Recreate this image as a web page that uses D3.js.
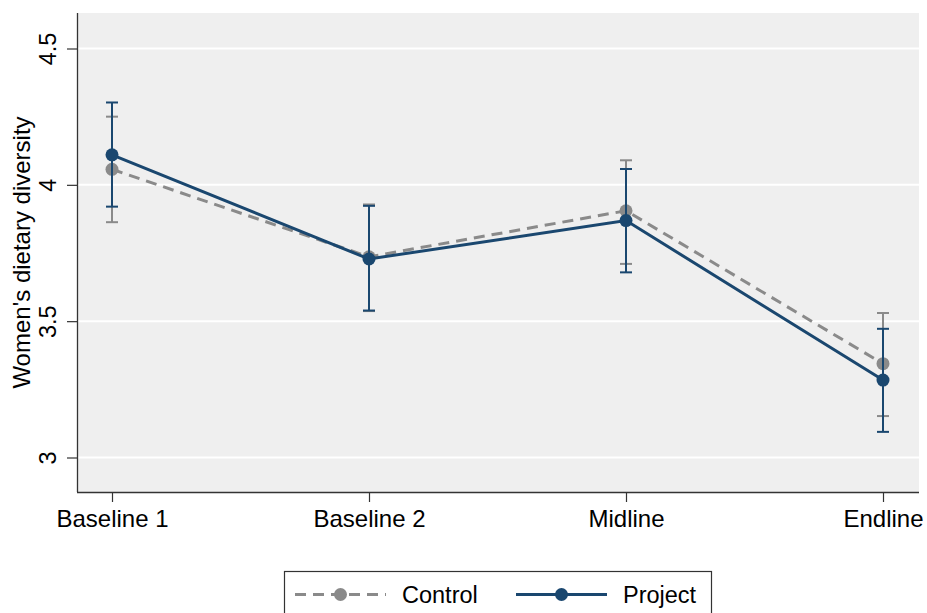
<!DOCTYPE html>
<html>
<head>
<meta charset="utf-8">
<script src="https://cdn.jsdelivr.net/npm/d3@7/dist/d3.min.js"></script>
<style>
  html, body { margin: 0; padding: 0; background: #ffffff; }
  svg { display: block; }
  text { font-family: "Liberation Sans", Arial, Helvetica, sans-serif; fill: #000; }
</style>
</head>
<body>
<svg id="chart" width="927" height="613"></svg>
<script>
// ---- data ----
const categories = ["Baseline 1", "Baseline 2", "Midline", "Endline"];
const controlMean = [4.057, 3.736, 3.905, 3.344];
const controlLow  = [3.863, 3.537, 3.710, 3.152];
const controlHigh = [4.250, 3.928, 4.090, 3.530];
const projectMean = [4.110, 3.728, 3.869, 3.284];
const projectLow  = [3.920, 3.539, 3.679, 3.094];
const projectHigh = [4.302, 3.923, 4.058, 3.472];
const yTicks = [3, 3.5, 4, 4.5];
const yTickLabels = ["3", "3.5", "4", "4.5"];
const seriesNames = ["Control", "Project"];
const yTitle = "Women's dietary diversity";

// ---- layout ----
const svg = d3.select("#chart");
const plotLeft = 77, plotRight = 919, plotTop = 13, plotBottom = 492;
const colControl = "#8a8a8a", colProject = "#1a476f";

const x = d3.scalePoint().domain(categories).range([112, 883]);
const y = d3.scaleLinear().domain([3, 4.5]).range([457.5, 48.5]);

// plot background
svg.append("rect").attr("x", plotLeft).attr("y", plotTop)
  .attr("width", plotRight - plotLeft).attr("height", plotBottom - plotTop)
  .attr("fill", "#efefef");

// gridlines
svg.append("g").selectAll("line").data(yTicks).join("line")
  .attr("x1", plotLeft).attr("x2", plotRight)
  .attr("y1", d => y(d)).attr("y2", d => y(d))
  .attr("stroke", "#ffffff").attr("stroke-width", 2);

// y axis
const yAxis = d3.axisLeft(y).tickValues(yTicks).tickSize(10).tickPadding(0)
  .tickFormat((d, i) => yTickLabels[i]);
const gy = svg.append("g").attr("transform", `translate(${plotLeft},0)`).call(yAxis);
gy.select(".domain").attr("d", `M0.5,${plotTop}V${plotBottom}`).attr("stroke", "#333").attr("stroke-width", 1.3);
gy.selectAll(".tick line").attr("stroke", "#333").attr("stroke-width", 1.2);
gy.selectAll(".tick text")
  .attr("x", null).attr("dy", null)
  .attr("transform", "translate(-21,0) rotate(-90)")
  .attr("text-anchor", "middle")
  .style("font-size", "23.5px")
  .style("font-family", '"Liberation Sans", Arial, sans-serif')
  .attr("fill", "#000");

// x axis
const xAxis = d3.axisBottom(x).tickSize(10).tickPadding(0);
const gx = svg.append("g").attr("transform", `translate(0,${plotBottom})`).call(xAxis);
gx.select(".domain").attr("d", `M${plotLeft},0.5H${plotRight}`).attr("stroke", "#333").attr("stroke-width", 1.3);
gx.selectAll(".tick line").attr("stroke", "#333").attr("stroke-width", 1.2);
gx.selectAll(".tick text")
  .attr("y", 34.5).attr("dy", null)
  .style("font-size", "24px")
  .style("font-family", '"Liberation Sans", Arial, sans-serif')
  .attr("fill", "#000");

// y title
svg.append("text")
  .attr("transform", `translate(30,${(plotTop + plotBottom) / 2}) rotate(-90)`)
  .attr("text-anchor", "middle")
  .style("font-size", "24px")
  .text(yTitle);

// series
const series = [
  { name: seriesNames[0], mean: controlMean, lo: controlLow, hi: controlHigh, color: colControl, dash: "11,7" },
  { name: seriesNames[1], mean: projectMean, lo: projectLow, hi: projectHigh, color: colProject, dash: null }
];

const capW = 6;
series.forEach(s => {
  const g = svg.append("g");
  // error bars
  categories.forEach((c, i) => {
    const cx = x(c);
    g.append("line").attr("x1", cx).attr("x2", cx).attr("y1", y(s.lo[i])).attr("y2", y(s.hi[i]))
      .attr("stroke", s.color).attr("stroke-width", 2);
    [s.lo[i], s.hi[i]].forEach(v => {
      g.append("line").attr("x1", cx - capW).attr("x2", cx + capW).attr("y1", y(v)).attr("y2", y(v))
        .attr("stroke", s.color).attr("stroke-width", 2);
    });
  });
  // line
  const line = d3.line().x((d, i) => x(categories[i])).y(d => y(d));
  g.append("path").datum(s.mean).attr("d", line)
    .attr("fill", "none").attr("stroke", s.color).attr("stroke-width", 3)
    .attr("stroke-dasharray", s.dash);
  // markers
  g.selectAll("circle").data(s.mean).join("circle")
    .attr("cx", (d, i) => x(categories[i])).attr("cy", d => y(d)).attr("r", 6.5)
    .attr("fill", s.color);
});

// legend
const lg = svg.append("g");
lg.append("rect").attr("x", 284.5).attr("y", 571.5).attr("width", 427).attr("height", 60)
  .attr("fill", "#fff").attr("stroke", "#333").attr("stroke-width", 1.2);
const legendItems = [
  { s: series[0], x1: 295, x2: 386, tx: 402 },
  { s: series[1], x1: 516, x2: 607, tx: 623 }
];
legendItems.forEach(it => {
  const ly = 594.5;
  lg.append("line").attr("x1", it.x1).attr("x2", it.x2).attr("y1", ly).attr("y2", ly)
    .attr("stroke", it.s.color).attr("stroke-width", 3).attr("stroke-dasharray", it.s.dash);
  lg.append("circle").attr("cx", (it.x1 + it.x2) / 2).attr("cy", ly).attr("r", 6.5).attr("fill", it.s.color);
  lg.append("text").attr("x", it.tx).attr("y", 603).style("font-size", "23.5px").text(it.s.name);
});
</script>
</body>
</html>
